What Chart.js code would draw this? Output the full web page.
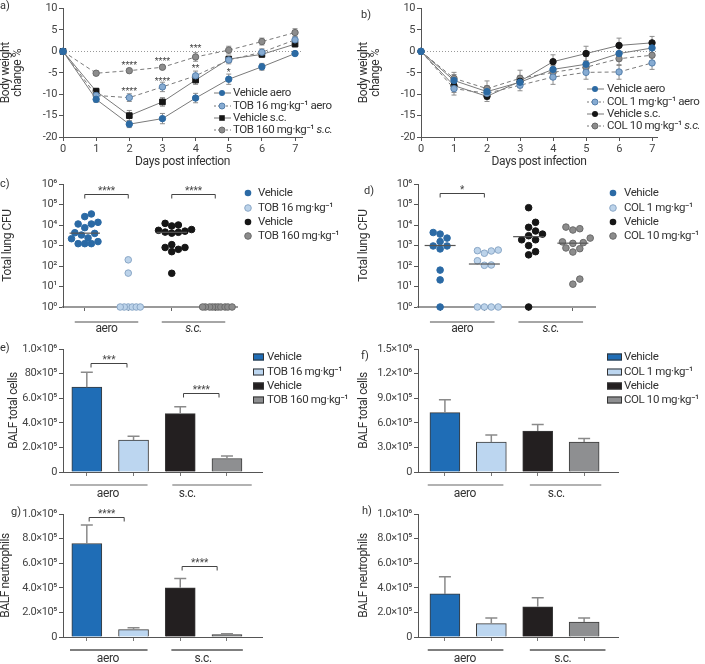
<!DOCTYPE html>
<html lang="en">
<head>
<meta charset="UTF-8">
<title>Body weight, lung CFU and BALF cells</title>
<script src="https://cdn.jsdelivr.net/npm/chart.js@4.4.1/dist/chart.umd.min.js"></script>
<style>
  body { margin: 0; background: #fff; }
  #fig { position: relative; width: 705px; height: 664px; overflow: hidden;
         font-family: Roboto, 'DejaVu Sans', sans-serif; color: #333; }
  #fig canvas { position: absolute; }
  .tag { position: absolute; font-size: 11px; line-height: 12px; z-index: 2; }
</style>
</head>
<body>
<div id="fig">
  <div class="tag" style="left:0;top:0">a)</div>
  <div class="tag" style="left:361px;top:9px">b)</div>
  <div class="tag" style="left:0;top:178px">c)</div>
  <div class="tag" style="left:364px;top:185px">d)</div>
  <div class="tag" style="left:0;top:342px">e)</div>
  <div class="tag" style="left:361px;top:350px">f)</div>
  <div class="tag" style="left:11px;top:506px">g)</div>
  <div class="tag" style="left:362px;top:505px">h)</div>
</div>
<script>
// ---- data ----
const days = [0, 1, 2, 3, 4, 5, 6, 7];
const weightTicks = [-20, -15, -10, -5, 0, 5, 10];

// a) tobramycin, body weight change %
const aVehAero = [0, -11.2, -17.0, -15.7, -10.9, -6.5, -3.6, -0.5];
const aVehAeroErr = [0, 0.7, 0.8, 1.2, 1.1, 1.2, 0.8, 0.4];
const aTob16 = [0, -10.3, -10.8, -8.3, -5.7, -2.0, -0.2, 2.7];
const aTob16Err = [0, 0.7, 0.9, 1.1, 1.1, 0.9, 0.8, 0.7];
const aVehSc = [0, -9.3, -15.0, -11.8, -6.7, -1.8, -0.7, 1.7];
const aVehScErr = [0, 0.7, 1.2, 1.0, 1.0, 0.6, 0.6, 0.6];
const aTob160 = [0, -5.1, -4.5, -3.7, -1.3, 0.3, 2.3, 4.4];
const aTob160Err = [0, 0.5, 0.5, 0.5, 1.0, 0.9, 0.8, 0.9];
const aStarDays = [2, 2, 3, 3, 4, 4, 5];
const aStarY = [-2.8, -8.9, -1.8, -6.4, 1.2, -3.4, -4.3];
const aStarText = ['****', '****', '****', '****', '***', '**', '*'];
const aLegend = ['Vehicle aero', 'TOB 16 mg·kg⁻¹ aero', 'Vehicle s.c.', [['TOB 160 mg·kg⁻¹ ', false], ['s.c.', true]]];

// b) colistin, body weight change %
const bVehAero = [0, -6.8, -9.4, -7.2, -4.2, -3.0, -0.5, 0.8];
const bVehAeroErr = [0, 1.4, 1.4, 1.3, 1.6, 1.8, 1.7, 1.3];
const bCol1 = [0, -8.7, -9.8, -7.9, -6.0, -4.9, -4.8, -2.7];
const bCol1Err = [0, 1.5, 1.4, 1.3, 1.7, 1.6, 1.7, 1.5];
const bVehSc = [0, -8.0, -10.5, -7.0, -2.4, -0.5, 1.4, 2.0];
const bVehScErr = [0, 1.6, 1.2, 1.4, 1.6, 1.7, 1.7, 1.5];
const bCol10 = [0, -6.3, -8.7, -6.3, -4.9, -3.7, -1.7, -0.9];
const bCol10Err = [0, 1.4, 1.8, 1.9, 1.6, 1.5, 1.6, 1.4];
const bLegend = ['Vehicle aero', 'COL 1 mg·kg⁻¹ aero', 'Vehicle s.c.', [['COL 10 mg·kg⁻¹ ', false], ['s.c.', true]]];

// c) total lung CFU, tobramycin
const logTicks = [1, 10, 100, 1000, 10000, 100000, 1000000];
const cVehAero = [34600, 25700, 13500, 11200, 11200, 7400, 4200, 3900, 3250, 2340, 2150, 1550, 1230, 1230, 1230];
const cTob16 = [200, 45, 1, 1, 1, 1, 1, 1];
const cVehSc = [12000, 10000, 9000, 6000, 5500, 5000, 4500, 4400, 4000, 1100, 800, 800, 650, 500, 44];
const cTob160 = [1, 1, 1, 1, 1, 1, 1, 1, 1, 1];
const cMedians = [4000, 1, 4400, 1];
const cLegend = ['Vehicle', 'TOB 16 mg·kg⁻¹', 'Vehicle', 'TOB 160 mg·kg⁻¹'];

// d) total lung CFU, colistin
const dVehAero = [4300, 3600, 2300, 1550, 950, 950, 680, 63, 21, 1];
const dCol1 = [600, 560, 540, 420, 180, 112, 108, 1, 1, 1, 1];
const dVehSc = [70000, 13500, 7700, 5100, 3600, 3000, 1900, 1900, 990, 500, 350, 1];
const dCol10 = [7900, 6600, 5700, 2300, 1500, 1380, 1270, 760, 700, 480, 23, 13];
const dMedians = [1000, 125, 2700, 1300];
const dLegend = ['Vehicle', 'COL 1 mg·kg⁻¹', 'Vehicle', 'COL 10 mg·kg⁻¹'];

// e-h) BALF counts (bars: vehicle aero, drug aero, vehicle s.c., drug s.c.)
const barCats = [1, 2, 3, 4];
const eVals = [6.9e5, 2.6e5, 4.75e5, 1.1e5];
const eErr = [1.2e5, 0.3e5, 0.55e5, 0.2e5];
const eTicks = [0, 2e5, 4e5, 6e5, 8e5, 1e6];
const eTickLabels = ['0', '2.0×10⁵', '4.0×10⁵', '6.0×10⁵', '80×10⁵', '1.0×10⁶'];
const fVals = [7.25e5, 3.65e5, 5.0e5, 3.65e5];
const fErr = [1.55e5, 0.85e5, 0.8e5, 0.45e5];
const fTicks = [0, 3e5, 6e5, 9e5, 1.2e6, 1.5e6];
const fTickLabels = ['0', '3.0×10⁵', '6.0×10⁵', '9.0×10⁵', '1.2×10⁶', '1.5×10⁶'];
const gVals = [7.6e5, 0.6e5, 4.0e5, 0.19e5];
const gErr = [1.5e5, 0.16e5, 0.75e5, 0.07e5];
const hVals = [3.5e5, 1.09e5, 2.45e5, 1.22e5];
const hErr = [1.4e5, 0.46e5, 0.75e5, 0.33e5];
const ghTicks = [0, 2e5, 4e5, 6e5, 8e5, 1e6];
const ghTickLabels = ['0', '2.0×10⁵', '4.0×10⁵', '6.0×10⁵', '8.0×10⁵', '1.0×10⁶'];
const eLegend = ['Vehicle', 'TOB 16 mg·kg⁻¹', 'Vehicle', 'TOB 160 mg·kg⁻¹'];
const fLegend = ['Vehicle', 'COL 1 mg·kg⁻¹', 'Vehicle', 'COL 10 mg·kg⁻¹'];

// ---- styles ----
const FONT = "Roboto, 'DejaVu Sans', sans-serif";
const TIGHT = '-0.4px';
const SUP = ['⁰', '¹', '²', '³', '⁴', '⁵', '⁶'];
const C = {
  blue: '#2c6aa3', lblue: '#86abd2', lblueEdge: '#557fab', black: '#161616', grey: '#8c8c8c', greyEdge: '#6a6a6a',
  barBlue: '#1f6db6', barLblue: '#bcd6f0', barBlack: '#231f20', barGrey: '#8e8f91',
  dotBlue: '#2b6aa5', dotLblue: '#bcd3ea', dotLblueEdge: '#8aa7c6'
};
const barColors = [C.barBlue, C.barLblue, C.barBlack, C.barGrey];

Chart.defaults.font.family = FONT;
Chart.defaults.color = '#444';
Chart.defaults.animation = false;
Chart.defaults.plugins.legend.display = false;
Chart.defaults.plugins.tooltip.enabled = false;
// condensed look for all canvas text
Chart.register({id: 'tightText', beforeDraw(chart) { chart.ctx.letterSpacing = TIGHT; }});

// ---- drawing helpers ----
function rich(ctx, label, x, y, size, align) {
  const segs = typeof label === 'string' ? [[label, false]] : label;
  ctx.letterSpacing = TIGHT;
  let w = 0;
  segs.forEach(([t, it]) => { ctx.font = (it ? 'italic ' : '') + size + 'px ' + FONT; w += ctx.measureText(t).width; });
  let cx = align === 'center' ? x - w / 2 : x;
  ctx.textAlign = 'left';
  ctx.textBaseline = 'middle';
  segs.forEach(([t, it]) => {
    ctx.font = (it ? 'italic ' : '') + size + 'px ' + FONT;
    ctx.fillText(t, cx, y);
    cx += ctx.measureText(t).width;
  });
}

function dot(ctx, shape, x, y, r, fill, edge) {
  ctx.beginPath();
  if (shape === 'rect') ctx.rect(x - r, y - r, 2 * r, 2 * r);
  else ctx.arc(x, y, r, 0, Math.PI * 2);
  ctx.fillStyle = fill;
  ctx.fill();
  if (edge) { ctx.strokeStyle = edge; ctx.lineWidth = 1; ctx.stroke(); }
}

function errorBars(chart, list) {
  const {ctx, scales: {x, y}} = chart;
  ctx.save();
  list.forEach(s => {
    ctx.strokeStyle = s.color;
    ctx.lineWidth = s.width;
    s.ys.forEach((v, i) => {
      const e = s.es[i];
      if (!e) return;
      const px = x.getPixelForValue(s.xs[i]);
      const top = y.getPixelForValue(v + e);
      const bot = y.getPixelForValue(s.up ? v : v - e);
      ctx.beginPath();
      ctx.moveTo(px, top); ctx.lineTo(px, bot);
      ctx.moveTo(px - s.cap, top); ctx.lineTo(px + s.cap, top);
      if (!s.up) { ctx.moveTo(px - s.cap, bot); ctx.lineTo(px + s.cap, bot); }
      ctx.stroke();
    });
  });
  ctx.restore();
}

function brackets(chart, list) {
  const {ctx, scales: {x, y}} = chart;
  ctx.save();
  ctx.strokeStyle = '#444';
  ctx.lineWidth = 1;
  ctx.fillStyle = '#444';
  ctx.letterSpacing = '0px';
  list.forEach(b => {
    const x1 = x.getPixelForValue(b.x1), x2 = x.getPixelForValue(b.x2), py = Math.round(y.getPixelForValue(b.y)) + 0.5;
    ctx.beginPath();
    ctx.moveTo(x1, py + 4); ctx.lineTo(x1, py); ctx.lineTo(x2, py); ctx.lineTo(x2, py + 4);
    ctx.stroke();
    ctx.font = '10px ' + FONT;
    ctx.textAlign = 'center';
    ctx.textBaseline = 'alphabetic';
    ctx.fillText(b.t, (x1 + x2) / 2, py - 1);
  });
  ctx.restore();
}

function groupLines(chart, g) {
  const {ctx, chartArea, scales: {x}} = chart;
  ctx.save();
  ctx.strokeStyle = g.color;
  ctx.lineWidth = 1.5;
  ctx.fillStyle = '#333';
  g.items.forEach(it => {
    const ly = chartArea.bottom + g.lineDy;
    ctx.beginPath();
    ctx.moveTo(x.getPixelForValue(it.x1), ly);
    ctx.lineTo(x.getPixelForValue(it.x2), ly);
    ctx.stroke();
    rich(ctx, it.label, x.getPixelForValue(it.lx), chartArea.bottom + g.textDy, 12, 'center');
  });
  ctx.restore();
}

function legend(chart, lg) {
  const ctx = chart.ctx;
  ctx.save();
  lg.items.forEach((it, i) => {
    const y = lg.ys[i];
    if (lg.kind === 'line') {
      ctx.strokeStyle = '#777';
      ctx.lineWidth = 1;
      ctx.setLineDash(it.dash || []);
      ctx.beginPath(); ctx.moveTo(lg.mx - 8, y); ctx.lineTo(lg.mx + 9, y); ctx.stroke();
      ctx.setLineDash([]);
      dot(ctx, it.shape, lg.mx, y, it.shape === 'rect' ? 2.8 : 3, it.fill, it.edge);
    } else if (lg.kind === 'dot') {
      dot(ctx, 'circle', lg.mx, y, 3.3, it.fill, it.edge);
    } else {
      ctx.fillStyle = it.fill;
      ctx.fillRect(lg.mx, y - 3.5, lg.bw, 7);
      ctx.strokeStyle = '#333';
      ctx.lineWidth = 1;
      ctx.strokeRect(lg.mx + 0.5, y - 3, lg.bw - 1, 6);
    }
    ctx.fillStyle = '#333';
    rich(ctx, it.label, lg.tx, y, 11.5, 'left');
  });
  ctx.restore();
}

// chart area placed exactly at page coordinates [L, T, R, B]
function panel(box, area, cfg, yTitlePad) {
  const [left, top, w, h] = box;
  const [L, T, R, B] = area;
  const cv = document.createElement('canvas');
  cv.width = w; cv.height = h;
  cv.style.left = left + 'px'; cv.style.top = top + 'px';
  cv.style.width = w + 'px'; cv.style.height = h + 'px';
  document.getElementById('fig').appendChild(cv);
  cfg.options.responsive = false;
  cfg.options.layout = {padding: {left: 0, top: T - top, right: left + w - R, bottom: 0}};
  cfg.options.scales.x.afterFit = s => { s.height = top + h - B; };
  cfg.options.scales.y.afterFit = s => { s.width = L - left; };
  cfg.options.scales.y.title.padding = {top: yTitlePad, bottom: 0};
  return new Chart(cv, cfg);
}

function axisBase(extra) {
  return Object.assign({
    grid: {drawOnChartArea: false, color: '#555', tickLength: 4},
    border: {color: '#555', width: 1}
  }, extra);
}
const tickFont = {font: {size: 11}, color: '#444', padding: 2, maxRotation: 0, autoSkip: false};

// ---- line panels (a, b) ----
function weightPanel(box, area, xMax, series, opts) {
  const datasets = series.map(s => ({
    data: days.map((d, i) => ({x: d, y: s.vals[i]})),
    borderColor: '#7a7a7a', borderWidth: 1, borderDash: s.dash || [],
    pointStyle: s.shape, pointRadius: s.shape === 'rect' ? 4 : 3.2,
    pointBackgroundColor: s.fill, pointBorderColor: s.edge || s.fill, pointBorderWidth: 1,
    tension: 0, clip: false
  }));
  const plug = {
    id: 'weightExtras',
    beforeDatasetsDraw(chart) {
      const {ctx, chartArea, scales: {y}} = chart;
      ctx.save();
      ctx.strokeStyle = '#999';
      ctx.lineWidth = 1;
      ctx.setLineDash([1, 2]);
      const y0 = Math.round(y.getPixelForValue(0)) + 0.5;
      ctx.beginPath(); ctx.moveTo(chartArea.left, y0); ctx.lineTo(chartArea.right, y0); ctx.stroke();
      ctx.restore();
      errorBars(chart, series.map(s => ({xs: days, ys: s.vals, es: s.err, up: false, cap: 2.5, color: '#8d8d8d', width: 1})));
    },
    afterDatasetsDraw(chart) {
      const {ctx, scales: {x, y}} = chart;
      if (opts.stars) {
        ctx.save();
        ctx.fillStyle = '#444';
        ctx.letterSpacing = '0px';
        ctx.font = '9px ' + FONT;
        ctx.textAlign = 'center';
        ctx.textBaseline = 'alphabetic';
        opts.stars.days.forEach((d, i) => {
          ctx.fillText(opts.stars.text[i], x.getPixelForValue(d), y.getPixelForValue(opts.stars.y[i]) + 5);
        });
        ctx.restore();
      }
      legend(chart, opts.legend);
    }
  };
  return panel(box, area, {
    type: 'line',
    data: {datasets},
    options: {
      scales: {
        x: axisBase({type: 'linear', min: 0, max: xMax, afterBuildTicks: s => { s.ticks = days.map(v => ({value: v})); },
          ticks: tickFont,
          title: {display: true, text: 'Days post infection', color: '#333', font: {size: 12, lineHeight: 1}, padding: {top: 0, bottom: 2}}}),
        y: axisBase({min: -20, max: 10, afterBuildTicks: s => { s.ticks = weightTicks.map(v => ({value: v})); },
          ticks: tickFont,
          title: {display: true, text: ['Body weight', 'change %'], color: '#333', font: {size: 12, lineHeight: 1}}})
      }
    },
    plugins: [plug]
  }, opts.titlePad);
}

// ---- CFU scatter panels (c, d) ----
function swarm(vals, pxPerCat, pxPerDecade, gap) {
  const order = vals.map((v, i) => i).sort((a, b) => vals[a] - vals[b]);
  const placed = [];
  const off = [];
  order.forEach(i => {
    const py = Math.log10(vals[i]) * pxPerDecade;
    let k = 0, dx = 0;
    for (;;) {
      dx = (k % 2 ? 1 : -1) * Math.ceil(k / 2) * gap * 0.5;
      if (placed.every(p => (p.x - dx) ** 2 + (p.y - py) ** 2 >= gap * gap)) break;
      k++;
    }
    placed.push({x: dx, y: py});
    off[i] = dx / pxPerCat;
  });
  return off;
}

function cfuPanel(box, area, groups, medians, brk, lg, titlePad) {
  const datasets = groups.map((g, gi) => {
    const off = swarm(g.vals, 43.4, 20.5, g.gap);
    return {
      data: g.vals.map((v, i) => ({x: gi + 1 + off[i], y: v})),
      pointRadius: 3.3, pointBackgroundColor: g.fill, pointBorderColor: g.edge || g.fill, pointBorderWidth: 1,
      clip: false
    };
  });
  const plug = {
    id: 'cfuExtras',
    afterDatasetsDraw(chart) {
      const {ctx, scales: {x, y}} = chart;
      ctx.save();
      ctx.strokeStyle = '#555';
      ctx.lineWidth = 1.2;
      medians.forEach((m, i) => {
        if (m <= 1) return;
        const py = y.getPixelForValue(m);
        ctx.beginPath();
        ctx.moveTo(x.getPixelForValue(i + 1 - 0.35), py);
        ctx.lineTo(x.getPixelForValue(i + 1 + 0.35), py);
        ctx.stroke();
      });
      ctx.restore();
      brackets(chart, brk);
      groupLines(chart, {color: '#888', lineDy: 15, textDy: 22, items: [
        {x1: 0.77, x2: 2.23, lx: 1.5, label: 'aero'},
        {x1: 2.77, x2: 4.23, lx: 3.5, label: [['s.c.', true]]}
      ]});
      legend(chart, lg);
    }
  };
  return panel(box, area, {
    type: 'scatter',
    data: {datasets},
    options: {
      scales: {
        x: {type: 'linear', min: 0.5, max: 4.5, afterBuildTicks: s => { s.ticks = barCats.map(v => ({value: v})); },
          grid: {drawOnChartArea: false, color: '#666', tickLength: 4}, border: {color: '#9a9a9a', width: 2},
          ticks: {display: false}},
        y: axisBase({type: 'logarithmic', min: 1, max: 1e6,
          afterBuildTicks: s => { s.ticks = logTicks.map(v => ({value: v})); },
          ticks: Object.assign({callback: v => '10' + SUP[Math.round(Math.log10(v))]}, tickFont),
          title: {display: true, text: 'Total lung CFU', color: '#333', font: {size: 12, lineHeight: 1}}})
      }
    },
    plugins: [plug]
  }, titlePad);
}

// ---- bar panels (e-h) ----
function barPanel(box, area, spec) {
  const plug = {
    id: 'barExtras',
    afterDatasetsDraw(chart) {
      errorBars(chart, [{xs: barCats, ys: spec.vals, es: spec.err, up: true, cap: 6, color: '#8a8a8a', width: 1.5}]);
      if (spec.brackets) brackets(chart, spec.brackets);
      groupLines(chart, {color: spec.groupColor, lineDy: 13, textDy: 22, items: spec.groups});
      if (spec.legend) legend(chart, spec.legend);
    }
  };
  return panel(box, area, {
    type: 'bar',
    data: {datasets: [{
      data: barCats.map((c, i) => ({x: c, y: spec.vals[i]})),
      backgroundColor: barColors, borderColor: '#3a3a3a', borderWidth: 1, barThickness: 30, clip: false
    }]},
    options: {
      scales: {
        x: axisBase({type: 'linear', offset: false, min: spec.xMin, max: spec.xMax,
          afterBuildTicks: s => { s.ticks = barCats.map(v => ({value: v})); },
          grid: {drawOnChartArea: false, offset: false, color: '#777', tickLength: 4},
          ticks: {display: false}}),
        y: axisBase({min: 0, max: spec.ticks[spec.ticks.length - 1],
          afterBuildTicks: s => { s.ticks = spec.ticks.map(v => ({value: v})); },
          ticks: Object.assign({callback: (v, i) => spec.tickLabels[i]}, tickFont),
          title: {display: true, text: spec.title, color: '#333', font: {size: 12, lineHeight: 1}}})
      }
    },
    plugins: [plug]
  }, spec.titlePad);
}

// ---- build ----
weightPanel([0, 0, 355, 170], [63, 6, 302, 137], 7.21, [
  {vals: aVehAero, err: aVehAeroErr, shape: 'circle', fill: C.blue},
  {vals: aTob16, err: aTob16Err, shape: 'circle', fill: C.lblue, edge: C.lblueEdge, dash: [4, 3]},
  {vals: aVehSc, err: aVehScErr, shape: 'rect', fill: C.black},
  {vals: aTob160, err: aTob160Err, shape: 'circle', fill: C.grey, edge: C.greyEdge, dash: [4, 3]}
], {
  titlePad: 0,
  stars: {days: aStarDays, y: aStarY, text: aStarText},
  legend: {kind: 'line', mx: 222, tx: 233, ys: [93, 106, 118, 130], items: [
    {label: aLegend[0], shape: 'circle', fill: C.blue},
    {label: aLegend[1], shape: 'circle', fill: C.lblue, edge: C.lblueEdge, dash: [2, 2]},
    {label: aLegend[2], shape: 'rect', fill: C.black},
    {label: aLegend[3], shape: 'circle', fill: C.grey, edge: C.greyEdge, dash: [2, 2]}
  ]}
});

weightPanel([350, 0, 355, 170], [421, 6, 657, 137], 7.15, [
  {vals: bVehAero, err: bVehAeroErr, shape: 'circle', fill: C.blue},
  {vals: bCol1, err: bCol1Err, shape: 'circle', fill: C.lblue, edge: C.lblueEdge, dash: [4, 3]},
  {vals: bVehSc, err: bVehScErr, shape: 'circle', fill: C.black},
  {vals: bCol10, err: bCol10Err, shape: 'circle', fill: C.grey, edge: C.greyEdge, dash: [4, 3]}
], {
  titlePad: 8,
  legend: {kind: 'line', mx: 245, tx: 257, ys: [89, 102, 114, 126], items: [
    {label: bLegend[0], shape: 'circle', fill: C.blue},
    {label: bLegend[1], shape: 'circle', fill: C.lblue, edge: C.lblueEdge, dash: [2, 2]},
    {label: bLegend[2], shape: 'circle', fill: C.black},
    {label: bLegend[3], shape: 'circle', fill: C.grey, edge: C.greyEdge, dash: [2, 2]}
  ]}
});

const dotStyles = [
  {fill: C.dotBlue}, {fill: C.dotLblue, edge: C.dotLblueEdge}, {fill: C.black}, {fill: C.grey, edge: C.greyEdge}
];

cfuPanel([0, 170, 355, 170], [63, 184, 237, 307], [
  Object.assign({vals: cVehAero, gap: 6.6}, dotStyles[0]),
  Object.assign({vals: cTob16, gap: 4}, dotStyles[1]),
  Object.assign({vals: cVehSc, gap: 6.6}, dotStyles[2]),
  Object.assign({vals: cTob160, gap: 2.8}, dotStyles[3])
], cMedians, [
  {x1: 1, x2: 2, y: Math.pow(10, 5.5), t: '****'},
  {x1: 3, x2: 4, y: Math.pow(10, 5.5), t: '****'}
], {kind: 'dot', mx: 248, tx: 258, ys: [23, 38, 52, 66],
    items: cLegend.map((l, i) => Object.assign({label: l}, dotStyles[i]))}, 2);

cfuPanel([350, 170, 355, 170], [418, 184, 595, 307], [
  Object.assign({vals: dVehAero, gap: 6.8}, dotStyles[0]),
  Object.assign({vals: dCol1, gap: 6.8}, dotStyles[1]),
  Object.assign({vals: dVehSc, gap: 6.8}, dotStyles[2]),
  Object.assign({vals: dCol10, gap: 6.8}, dotStyles[3])
], dMedians, [
  {x1: 1, x2: 2, y: Math.pow(10, 5.55), t: '*'}
], {kind: 'dot', mx: 263, tx: 274, ys: [23, 38, 52, 66],
    items: dLegend.map((l, i) => Object.assign({label: l}, dotStyles[i]))}, 8);

barPanel([0, 340, 355, 160], [63, 349, 262, 472], {
  vals: eVals, err: eErr, ticks: eTicks, tickLabels: eTickLabels, xMin: 0.49, xMax: 4.75,
  title: 'BALF total cells', titlePad: 8, groupColor: '#999',
  brackets: [{x1: 1.09, x2: 1.86, y: 8.9e5, t: '***'}, {x1: 3.07, x2: 3.83, y: 6.4e5, t: '****'}],
  groups: [{x1: 0.64, x2: 2.3, lx: 1.45, label: 'aero'}, {x1: 2.83, x2: 4.53, lx: 3.15, label: 's.c.'}],
  legend: {kind: 'box', mx: 253, bw: 11, tx: 267, ys: [17, 32, 46, 60],
    items: eLegend.map((l, i) => ({label: l, fill: barColors[i]}))}
});

barPanel([350, 340, 355, 160], [418, 349, 618, 472], {
  vals: fVals, err: fErr, ticks: fTicks, tickLabels: fTickLabels, xMin: 0.42, xMax: 4.73,
  title: 'BALF total cells', titlePad: 8, groupColor: '#999',
  groups: [{x1: 0.63, x2: 2.26, lx: 1.43, label: 'aero'}, {x1: 2.83, x2: 4.37, lx: 3.4, label: 's.c.'}],
  legend: {kind: 'box', mx: 257, bw: 15, tx: 274, ys: [17, 32, 46, 60],
    items: fLegend.map((l, i) => ({label: l, fill: barColors[i]}))}
});

barPanel([0, 500, 355, 164], [63, 514, 262, 637], {
  vals: gVals, err: gErr, ticks: ghTicks, tickLabels: ghTickLabels, xMin: 0.49, xMax: 4.75,
  title: 'BALF neutrophils', titlePad: 0, groupColor: '#555',
  brackets: [{x1: 1.05, x2: 1.8, y: 9.78e5, t: '****'}, {x1: 3.04, x2: 3.79, y: 5.77e5, t: '****'}],
  groups: [{x1: 0.64, x2: 2.3, lx: 1.45, label: 'aero'}, {x1: 2.81, x2: 4.34, lx: 3.49, label: 's.c.'}]
});

barPanel([350, 500, 355, 164], [418, 514, 618, 637], {
  vals: hVals, err: hErr, ticks: ghTicks, tickLabels: ghTickLabels, xMin: 0.42, xMax: 4.73,
  title: 'BALF neutrophils', titlePad: 8, groupColor: '#555',
  groups: [{x1: 0.63, x2: 2.26, lx: 1.43, label: 'aero'}, {x1: 2.83, x2: 4.46, lx: 3.54, label: 's.c.'}]
});
</script>
</body>
</html>
